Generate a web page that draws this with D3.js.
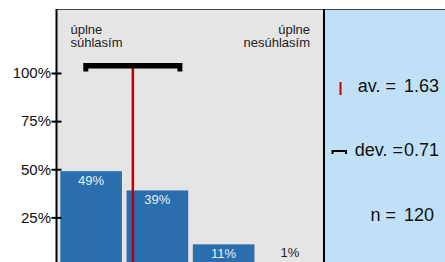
<!DOCTYPE html>
<html>
<head>
<meta charset="utf-8">
<script src="https://cdn.jsdelivr.net/npm/d3@7"></script>
<style>
  body { margin: 0; background: #fff; }
  svg { display: block; font-family: "Liberation Sans", Arial, sans-serif; }
</style>
</head>
<body>
<div id="chart"></div>
<script>
// data
const categories = ["1", "2", "3", "4"];
const shares = [49, 39, 11, 1];
const yTicks = [25, 50, 75, 100];
const leftLabel = ["úplne", "súhlasím"];
const rightLabel = ["úplne", "nesúhlasím"];
const average = 1.63;
const deviation = 0.71;
const count = 120;

const W = 445, H = 262;
const box = { left: 57, right: 324, top: 9 };

const svg = d3.select("#chart").append("svg")
    .attr("width", W).attr("height", H);

// panels
svg.append("rect")
    .attr("x", box.left).attr("y", box.top)
    .attr("width", box.right - box.left).attr("height", H)
    .attr("fill", "#e5e5e5");
svg.append("rect")
    .attr("x", box.right).attr("y", box.top)
    .attr("width", W - box.right).attr("height", H)
    .attr("fill", "#bfe0f6");
svg.append("line")
    .attr("x1", box.left).attr("x2", W)
    .attr("y1", box.top + 0.5).attr("y2", box.top + 0.5)
    .attr("stroke", "#444").attr("stroke-width", 1);

// scales
const x = d3.scaleBand().domain(categories)
    .range([box.left, box.right])
    .paddingInner(0.07).paddingOuter(0.05);
const y = d3.scaleLinear().domain([0, 100]).range([265.5, 73]);
const xMean = d3.scaleLinear().domain([1, 4])
    .range([x("1") + x.bandwidth() / 2, x("4") + x.bandwidth() / 2]);

// bars
const bars = svg.append("g");
bars.selectAll("rect").data(shares).join("rect")
    .attr("x", (d, i) => x(categories[i]))
    .attr("y", d => y(d))
    .attr("width", x.bandwidth())
    .attr("height", d => y(0) - y(d))
    .attr("fill", "#2a6ead");

bars.selectAll("text").data(shares).join("text")
    .attr("x", (d, i) => x(categories[i]) + x.bandwidth() / 2)
    .attr("y", d => d > 5 ? y(d) + 14 : y(d) - 7)
    .attr("text-anchor", "middle")
    .attr("font-size", 13)
    .attr("fill", d => d > 5 ? "#e8eef6" : "#222")
    .text(d => d + "%");

// scale labels
const ends = svg.append("g").attr("font-size", 13).attr("fill", "#222");
ends.append("text").attr("x", 70.5).attr("y", 33.5)
    .selectAll("tspan").data(leftLabel).join("tspan")
    .attr("x", 70.5).attr("dy", (d, i) => i ? 13 : 0).text(d => d);
ends.append("text").attr("x", 310).attr("y", 33.5).attr("text-anchor", "end")
    .selectAll("tspan").data(rightLabel).join("tspan")
    .attr("x", 310).attr("dy", (d, i) => i ? 13 : 0).text(d => d);

// mean line + deviation bracket
svg.append("line")
    .attr("x1", xMean(average)).attr("x2", xMean(average))
    .attr("y1", 68).attr("y2", H)
    .attr("stroke", "#c00000").attr("stroke-width", 2.5);

const lo = xMean(average - deviation), hi = xMean(average + deviation);
const br = svg.append("g").attr("fill", "#000");
br.append("rect").attr("x", lo - 2).attr("y", 63)
    .attr("width", hi - lo + 4).attr("height", 5.5);
br.selectAll(".cap").data([lo, hi]).join("rect").attr("class", "cap")
    .attr("x", d => d - 2.5).attr("y", 63)
    .attr("width", 5).attr("height", 8.5);

// y axis
const yAxis = d3.axisLeft(y).tickValues(yTicks)
    .tickFormat(d => d + "%").tickSize(5).tickPadding(2);
const ax = svg.append("g").attr("transform", `translate(${box.left - 0.5},0)`).call(yAxis);
ax.select(".domain").remove();
ax.selectAll(".tick line").attr("x1", -5).attr("x2", 5)
    .attr("stroke", "#000").attr("stroke-width", 2);
ax.selectAll(".tick text").attr("font-size", 15)
    .attr("font-family", "'Liberation Sans', Arial, sans-serif")
    .attr("fill", "#111").attr("x", -5.5);

svg.append("line").attr("x1", box.left - 0.5).attr("x2", box.left - 0.5)
    .attr("y1", box.top).attr("y2", H).attr("stroke", "#000").attr("stroke-width", 2);
svg.append("line").attr("x1", box.right).attr("x2", box.right)
    .attr("y1", box.top).attr("y2", H).attr("stroke", "#000").attr("stroke-width", 2);

// stats panel
const stats = [
  { label: "av. =", value: average.toFixed(2), y: 92, end: 396 },
  { label: "dev. =", value: deviation.toFixed(2), y: 156, end: 403 },
  { label: "n =", value: String(count), y: 220.5, end: 396 }
];
const sg = svg.append("g").attr("font-size", 18).attr("fill", "#111");
sg.selectAll(".lab").data(stats).join("text").attr("class", "lab")
    .attr("x", d => d.end).attr("y", d => d.y)
    .attr("text-anchor", "end").text(d => d.label);
sg.selectAll(".val").data(stats).join("text").attr("class", "val")
    .attr("x", 404).attr("y", d => d.y).text(d => d.value);

svg.append("line").attr("x1", 340.5).attr("x2", 340.5)
    .attr("y1", 82).attr("y2", 95)
    .attr("stroke", "#c00000").attr("stroke-width", 2);
svg.append("path")
    .attr("d", "M332.5,154 V151 H346 V154")
    .attr("fill", "none").attr("stroke", "#000").attr("stroke-width", 2);
</script>
</body>
</html>
